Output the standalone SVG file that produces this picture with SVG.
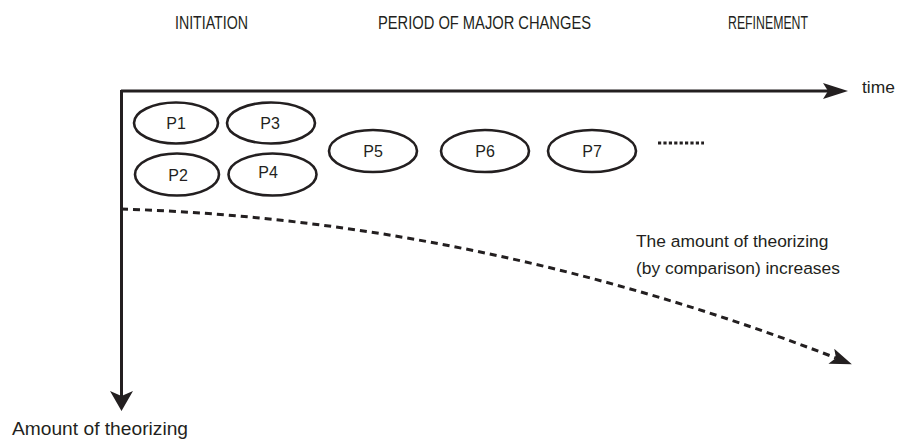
<svg xmlns="http://www.w3.org/2000/svg" width="912" height="442" viewBox="0 0 912 442">
<style>
text{font-family:"Liberation Sans",Arial,sans-serif;fill:#231f20}
.hdr{font-size:18px}
.lbl{font-size:16px;text-anchor:middle}
.body{font-size:17.4px}
.node ellipse{fill:none;stroke:#231f20;stroke-width:2.6}
.axis{stroke:#231f20;stroke-width:3;fill:none}
.dash{stroke:#231f20;stroke-width:3;fill:none;stroke-dasharray:7 5}
.head{fill:#231f20}
</style>
<defs>
<marker id="dhead" markerUnits="userSpaceOnUse" markerWidth="24" markerHeight="18" refX="5" refY="8" orient="auto">
<path d="M0,0 L22,8 L0,16 L5,8 z" class="head"/>
</marker>
</defs>
<g id="headers">
<text class="hdr" x="175" y="29" textLength="73" lengthAdjust="spacingAndGlyphs">INITIATION</text>
<text class="hdr" x="378" y="29" textLength="213" lengthAdjust="spacingAndGlyphs">PERIOD OF MAJOR CHANGES</text>
<text class="hdr" x="728" y="29" textLength="80" lengthAdjust="spacingAndGlyphs">REFINEMENT</text>
</g>
<g id="connectors">
<path class="axis" d="M121,91 H828"/>
<polygon class="head" points="848,91 823,83 828,91 823,99"/>
<path class="axis" d="M121.5,90 V396"/>
<polygon class="head" points="121.5,411 110,391 121.5,396 133,391"/>
<path class="dash" d="M121,209 Q480,220 836,358" marker-end="url(#dhead)"/>
<path class="dash" d="M658,143 H704" style="stroke-dasharray:3.2 2.2;stroke-width:3"/>
</g>
<g id="P1" class="node"><ellipse cx="176" cy="123" rx="42" ry="20.5"/><text class="lbl" x="176" y="129">P1</text></g>
<g id="P3" class="node"><ellipse cx="271" cy="123" rx="44" ry="20.5"/><text class="lbl" x="270" y="129">P3</text></g>
<g id="P2" class="node"><ellipse cx="177" cy="174.5" rx="42" ry="21"/><text class="lbl" x="178" y="180.5">P2</text></g>
<g id="P4" class="node"><ellipse cx="272.5" cy="174.5" rx="44" ry="21"/><text class="lbl" x="268" y="177.5">P4</text></g>
<g id="P5" class="node"><ellipse cx="373" cy="151" rx="44" ry="21"/><text class="lbl" x="373" y="157">P5</text></g>
<g id="P6" class="node"><ellipse cx="485" cy="151" rx="44" ry="21"/><text class="lbl" x="485" y="157">P6</text></g>
<g id="P7" class="node"><ellipse cx="592" cy="151" rx="44" ry="21"/><text class="lbl" x="592" y="157">P7</text></g>
<g id="labels">
<text class="body" x="862" y="93">time</text>
<text class="body" x="636" y="247">The amount of theorizing</text>
<text class="body" x="636" y="274">(by comparison) increases</text>
<text class="body" x="12" y="435" style="font-size:19.2px">Amount of theorizing</text>
</g>
</svg>
